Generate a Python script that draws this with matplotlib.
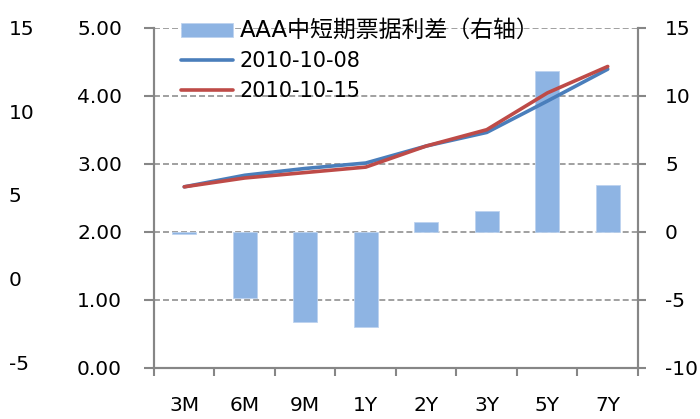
import numpy as np
import matplotlib.pyplot as plt

plt.rcParams['font.family'] = ['DejaVu Sans', 'Noto Sans CJK SC']

# data
cats = ['3M', '6M', '9M', '1Y', '2Y', '3Y', '5Y', '7Y']
spread = [-0.17, -4.9, -6.66, -6.98, 0.68, 1.55, 11.84, 3.44]   # right axis
y1008 = [2.66, 2.83, 2.93, 3.01, 3.26, 3.46, 3.92, 4.39]
y1015 = [2.66, 2.79, 2.87, 2.95, 3.26, 3.50, 4.04, 4.43]
left_ticks = [0, 1, 2, 3, 4, 5]
right_ticks = [-10, -5, 0, 5, 10, 15]
far_ticks = [-5, 0, 5, 10, 15]

grey = '#868686'
fs = 14.5
x = np.arange(len(cats))

fig = plt.figure(figsize=(7, 4.19), dpi=100)
ax = fig.add_axes([0.22, 0.1224, 0.6914, 0.8115])
ax2 = ax.twinx()
ax3 = ax.twinx()

# bars on the right axis, behind the lines
ax2.bar(x, spread, width=0.39, color='#8EB4E3', edgecolor='#BDD3EF', linewidth=0.6,
        zorder=3, label='AAA中短期票据利差（右轴）')
ax2.set_ylim(-10, 15)
ax2.set_yticks(right_ticks)
ax2.set_yticklabels([str(v) for v in right_ticks])
ax2.grid(axis='y', color=grey, linewidth=1.1, linestyle=(0, (3.9, 2)), zorder=0)
ax2.set_axisbelow(True)

# lines on the left axis, drawn on top
ax.set_zorder(ax2.get_zorder() + 2)
ax.patch.set_visible(False)
l1, = ax.plot(x, y1008, color='#4A7EBB', linewidth=2.6, label='2010-10-08',
              solid_capstyle='round')
l2, = ax.plot(x, y1015, color='#BE4B48', linewidth=2.6, label='2010-10-15',
              solid_capstyle='round')
ax.set_ylim(0, 5)
ax.set_yticks(left_ticks)
ax.set_yticklabels(['%.2f' % v for v in left_ticks])
ax.set_xlim(-0.5, len(cats) - 0.5)
ax.set_xticks(np.arange(-0.5, len(cats), 1))
ax.set_xticklabels([])
ax.set_xticks(x, minor=True)
ax.set_xticklabels(cats, minor=True)

# far left extra axis (no spine)
ax3.set_ylim(-5.34, 14.96)
ax3.set_yticks(far_ticks)
ax3.set_yticklabels([str(v) for v in far_ticks])
ax3.yaxis.set_ticks_position('left')
ax3.yaxis.set_label_position('left')
ax3.tick_params(axis='y', length=0, pad=104.4, labelsize=fs)
for t in ax3.get_yticklabels():
    t.set_ha('left')
for s in ax3.spines.values():
    s.set_visible(False)

for a in (ax, ax2):
    a.spines['top'].set_visible(False)
    for s in ('left', 'right', 'bottom'):
        a.spines[s].set_color(grey)
        a.spines[s].set_linewidth(1.5)

ax.tick_params(axis='y', length=7.2, width=1.5, color=grey, pad=15.8, labelsize=fs)
ax.tick_params(axis='x', which='major', length=5.8, width=1.5, color=grey)
ax.tick_params(axis='x', which='minor', length=0, pad=20.5, labelsize=fs)
ax2.tick_params(axis='y', length=5.8, width=1.5, color=grey, pad=13.7, labelsize=fs)

bar_handle = ax2.patches[0]
leg = ax.legend([bar_handle, l1, l2],
                ['AAA中短期票据利差（右轴）', '2010-10-08', '2010-10-15'],
                loc='upper left', bbox_to_anchor=(181 / 700, 1 - 19 / 419),
                bbox_transform=fig.transFigure, frameon=False, fontsize=15,
                handlelength=2.5, handleheight=0.65, handletextpad=0.3,
                labelspacing=0.45, borderpad=0, borderaxespad=0)
leg.get_texts()[0].set_fontsize(16.5)

fig.savefig('out.png', dpi=100)
